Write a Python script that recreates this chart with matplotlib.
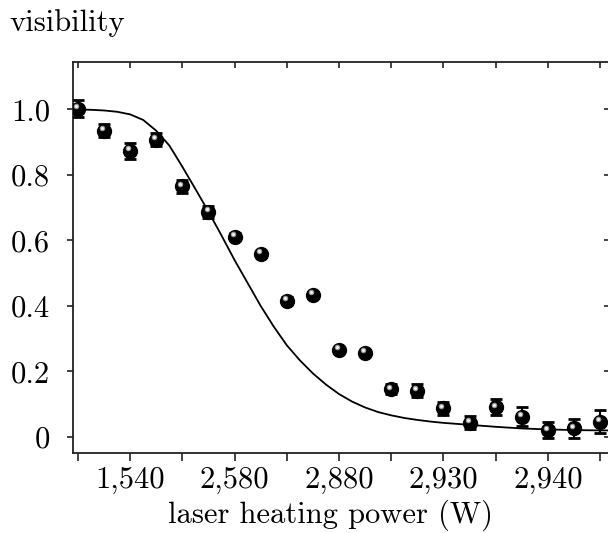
import matplotlib
matplotlib.use("Agg")
import matplotlib.pyplot as plt
from matplotlib.ticker import FixedLocator, FixedFormatter
from matplotlib.transforms import offset_copy

plt.rcParams['font.family'] = ['cmr10', 'DejaVu Serif']
plt.rcParams['axes.formatter.use_mathtext'] = True
plt.rcParams['mathtext.fontset'] = 'cm'

# ---- data ----
point_index = list(range(21))
visibility = [1.003, 0.935, 0.874, 0.907, 0.766, 0.688, 0.612, 0.559, 0.416, 0.434,
              0.266, 0.257, 0.146, 0.141, 0.088, 0.044, 0.091, 0.062, 0.021, 0.026, 0.047]
vis_err = [0.025, 0.02, 0.025, 0.02, 0.02, 0.018, 0.01, 0.01, 0.01, 0.01,
           0.01, 0.01, 0.015, 0.02, 0.02, 0.02, 0.025, 0.03, 0.025, 0.03, 0.035]

curve_index = [0, 0.5, 1, 1.5, 2, 2.5, 3, 3.5, 4, 4.5, 5, 5.5, 6, 6.5, 7, 7.5, 8, 8.5, 9, 9.5,
               10, 10.5, 11, 11.5, 12, 12.5, 13, 13.5, 14, 14.5, 15, 16, 17, 18, 19, 20, 20.4]
curve_vis = [1.000, 0.999, 0.997, 0.993, 0.985, 0.968, 0.935, 0.890, 0.825, 0.757, 0.688, 0.615,
             0.540, 0.470, 0.400, 0.337, 0.280, 0.234, 0.194, 0.160, 0.131, 0.108, 0.090, 0.076,
             0.066, 0.058, 0.052, 0.047, 0.043, 0.040, 0.037, 0.031, 0.026, 0.023, 0.021, 0.020, 0.020]

xtick_pos = [0, 2, 4, 6, 8, 10, 12, 14, 16, 18, 20]
xtick_text = ['', '1,540', '', '2,580', '', '2,880', '', '2,930', '', '2,940', '']
ytick_pos = [0, 0.2, 0.4, 0.6, 0.8, 1.0]
ytick_text = ['0', '0.2', '0.4', '0.6', '0.8', '1.0']

FS = 22

# ---- figure ----
fig = plt.figure(figsize=(6.08, 5.33), dpi=100)
ax = fig.add_axes([73/608, (533-453)/533, 537/608, (453-62)/533])

ax.plot(curve_index, curve_vis, color='black', lw=1.3, zorder=2)

ax.errorbar(point_index, visibility, yerr=vis_err, fmt='none', ecolor='black',
            elinewidth=1.5, capsize=4.0, capthick=2, zorder=3)
ax.plot(point_index, visibility, 'o', color='black', ms=10, mec='black', zorder=4)
hl = offset_copy(ax.transData, fig=fig, x=-1.4, y=1.8, units='points')
ax.plot(point_index, visibility, 'o', color='#9a9a9a', ms=4.0, mew=0, transform=hl, zorder=5)
ax.plot(point_index, visibility, 'o', color='#f2f2f2', ms=2.2, mew=0, transform=hl, zorder=6)

ax.set_xlim(-0.19, 20.38)
ax.set_ylim(-0.049, 1.145)

for s in ax.spines.values():
    s.set_linewidth(1.3)
    s.set_color('#222222')

ax.xaxis.set_major_locator(FixedLocator(xtick_pos))
ax.xaxis.set_major_formatter(FixedFormatter(xtick_text))
ax.yaxis.set_major_locator(FixedLocator(ytick_pos))
ax.yaxis.set_major_formatter(FixedFormatter(ytick_text))
ax.tick_params(axis='x', which='major', direction='out', length=5.5, width=1.2,
               pad=4, labelsize=FS, colors='#222222', labelcolor='black')
ax.tick_params(axis='y', which='major', direction='out', length=4.5, width=1.2,
               pad=12, labelsize=FS, colors='#222222', labelcolor='black')

# top/right inward ticks
ax_top = ax.secondary_xaxis('top')
ax_top.set_xticks(xtick_pos)
ax_top.set_xticklabels([])
ax_top.tick_params(direction='in', length=4.5, width=1.2, colors='#222222')
ax_top.spines['top'].set_visible(False)
ax_right = ax.secondary_yaxis('right')
ax_right.set_yticks(ytick_pos)
ax_right.set_yticklabels([])
ax_right.tick_params(direction='in', length=4.5, width=1.2, colors='#222222')
ax_right.spines['right'].set_visible(False)

fig.text(9/608, 1 - 31/533, 'visibility', ha='left', va='baseline', fontsize=FS)
fig.text(330/608, 1 - 523/533, 'laser heating power (W)', ha='center', va='baseline', fontsize=FS)

fig.savefig('out.png', dpi=100)
